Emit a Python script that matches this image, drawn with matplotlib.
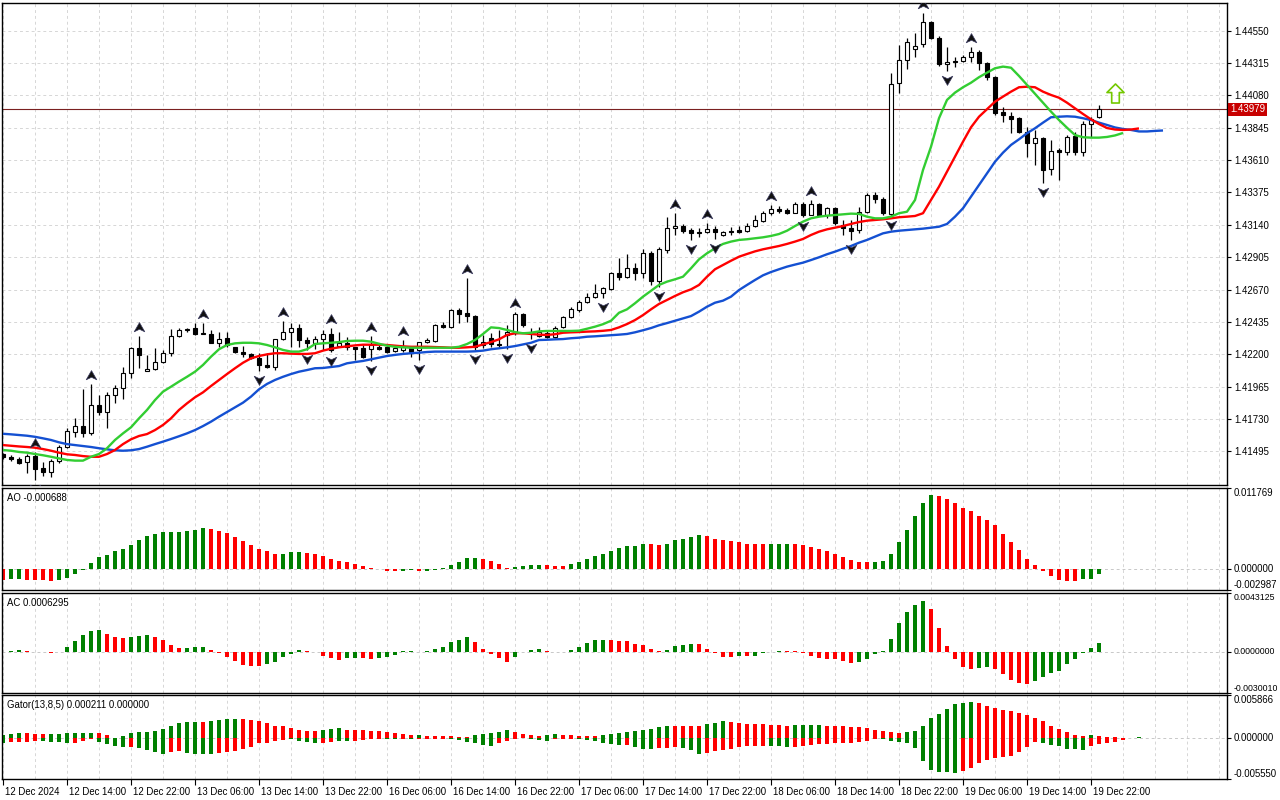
import matplotlib
matplotlib.use("Agg")
import matplotlib.pyplot as plt
import matplotlib.transforms as mtransforms
from matplotlib.path import Path
import numpy as np

plt.rcParams['font.family'] = ['Liberation Sans', 'DejaVu Sans']

# ---------------- data (H1 candles) ----------------
opens = [1.41473, 1.41455, 1.41439, 1.41415, 1.41463, 1.41372, 1.41347, 1.41423, 1.41524, 1.41637,
         1.41678, 1.41629, 1.41829, 1.41778, 1.41904, 1.41953, 1.42061, 1.42243, 1.42078, 1.42090,
         1.42141, 1.42211, 1.42332, 1.42376, 1.42388, 1.42352, 1.42347, 1.42283, 1.42316, 1.42250,
         1.42219, 1.42202, 1.42171, 1.42122, 1.42105, 1.42308, 1.42364, 1.42388, 1.42303, 1.42283,
         1.42308, 1.42347, 1.42262, 1.42279, 1.42254, 1.42243, 1.42238, 1.42254, 1.42250, 1.42224,
         1.42231, 1.42243, 1.42231, 1.42286, 1.42298, 1.42412, 1.42395, 1.42521, 1.42497, 1.42477,
         1.42267, 1.42316, 1.42274, 1.42340, 1.42352, 1.42492, 1.42364, 1.42332, 1.42356, 1.42323,
         1.42395, 1.42472, 1.42521, 1.42582, 1.42617, 1.42642, 1.42671, 1.42788, 1.42763, 1.42824,
         1.42788, 1.42937, 1.42734, 1.42957, 1.43114, 1.43131, 1.43102, 1.43090, 1.43085, 1.43112,
         1.43066, 1.43095, 1.43102, 1.43097, 1.43131, 1.43170, 1.43224, 1.43253, 1.43248, 1.43228,
         1.43291, 1.43211, 1.43291, 1.43211, 1.43260, 1.43139, 1.43114, 1.43102, 1.43235, 1.43357,
         1.43328, 1.43217, 1.44168, 1.44337, 1.44415, 1.44453, 1.44615, 1.44494, 1.44306, 1.44332,
         1.44330, 1.44357, 1.44393, 1.44318, 1.44216, 1.43957, 1.43930, 1.43914, 1.43817, 1.43736,
         1.43773, 1.43543, 1.43683, 1.43671, 1.43785, 1.43671, 1.43872, 1.43921]
highs = [1.41480, 1.41468, 1.41455, 1.41475, 1.41492, 1.41420, 1.41436, 1.41539, 1.41666, 1.41735,
         1.41945, 1.41984, 1.41904, 1.41925, 1.41977, 1.42109, 1.42254, 1.42332, 1.42195, 1.42243,
         1.42231, 1.42380, 1.42388, 1.42390, 1.42424, 1.42430, 1.42376, 1.42364, 1.42359, 1.42254,
         1.42259, 1.42207, 1.42207, 1.42207, 1.42308, 1.42443, 1.42424, 1.42419, 1.42327, 1.42332,
         1.42376, 1.42388, 1.42364, 1.42327, 1.42254, 1.42267, 1.42332, 1.42267, 1.42274, 1.42267,
         1.42303, 1.42254, 1.42291, 1.42316, 1.42419, 1.42436, 1.42526, 1.42534, 1.42752, 1.42484,
         1.42340, 1.42352, 1.42376, 1.42412, 1.42509, 1.42497, 1.42388, 1.42395, 1.42376, 1.42405,
         1.42477, 1.42541, 1.42594, 1.42646, 1.42710, 1.42690, 1.42800, 1.42896, 1.42928, 1.42860,
         1.42962, 1.42950, 1.42977, 1.43199, 1.43224, 1.43146, 1.43114, 1.43114, 1.43155, 1.43131,
         1.43097, 1.43122, 1.43131, 1.43151, 1.43211, 1.43243, 1.43284, 1.43277, 1.43260, 1.43308,
         1.43308, 1.43320, 1.43301, 1.43267, 1.43267, 1.43175, 1.43175, 1.43267, 1.43369, 1.43381,
         1.43344, 1.44241, 1.44446, 1.44494, 1.44531, 1.44676, 1.44623, 1.44512, 1.44429, 1.44361,
         1.44374, 1.44434, 1.44410, 1.44325, 1.44221, 1.43994, 1.43962, 1.43921, 1.43853, 1.43829,
         1.43780, 1.43756, 1.43695, 1.43793, 1.43812, 1.43896, 1.43925, 1.44010]
lows = [1.41441, 1.41427, 1.41403, 1.41335, 1.41286, 1.41315, 1.41310, 1.41408, 1.41517, 1.41600,
        1.41596, 1.41613, 1.41759, 1.41666, 1.41843, 1.41872, 1.42025, 1.42098, 1.42078, 1.42085,
        1.42134, 1.42187, 1.42327, 1.42364, 1.42340, 1.42345, 1.42279, 1.42254, 1.42254, 1.42207,
        1.42182, 1.42163, 1.42080, 1.42098, 1.42085, 1.42303, 1.42254, 1.42254, 1.42231, 1.42240,
        1.42231, 1.42213, 1.42254, 1.42231, 1.42158, 1.42171, 1.42151, 1.42231, 1.42207, 1.42216,
        1.42219, 1.42182, 1.42158, 1.42279, 1.42291, 1.42388, 1.42388, 1.42424, 1.42436, 1.42231,
        1.42243, 1.42254, 1.42245, 1.42238, 1.42340, 1.42400, 1.42310, 1.42323, 1.42321, 1.42316,
        1.42388, 1.42460, 1.42509, 1.42570, 1.42606, 1.42606, 1.42666, 1.42739, 1.42752, 1.42739,
        1.42752, 1.42703, 1.42688, 1.42933, 1.43066, 1.43078, 1.43030, 1.43054, 1.43078, 1.43035,
        1.43059, 1.43066, 1.43078, 1.43088, 1.43122, 1.43163, 1.43211, 1.43224, 1.43219, 1.43224,
        1.43199, 1.43208, 1.43208, 1.43187, 1.43139, 1.43066, 1.43030, 1.43078, 1.43224, 1.43296,
        1.43211, 1.43204, 1.44095, 1.44270, 1.44361, 1.44429, 1.44487, 1.44294, 1.44259, 1.44289,
        1.44325, 1.44325, 1.44265, 1.44192, 1.43938, 1.43889, 1.43809, 1.43809, 1.43631, 1.43575,
        1.43442, 1.43502, 1.43466, 1.43647, 1.43647, 1.43640, 1.43780, 1.43914]
closes = [1.41451, 1.41436, 1.41412, 1.41460, 1.41364, 1.41347, 1.41425, 1.41526, 1.41642, 1.41678,
          1.41629, 1.41829, 1.41778, 1.41902, 1.41953, 1.42061, 1.42243, 1.42195, 1.42093, 1.42141,
          1.42211, 1.42332, 1.42376, 1.42385, 1.42347, 1.42345, 1.42283, 1.42308, 1.42267, 1.42214,
          1.42202, 1.42171, 1.42122, 1.42105, 1.42308, 1.42364, 1.42388, 1.42303, 1.42279, 1.42308,
          1.42347, 1.42231, 1.42281, 1.42254, 1.42238, 1.42178, 1.42267, 1.42236, 1.42219, 1.42245,
          1.42254, 1.42219, 1.42286, 1.42303, 1.42412, 1.42395, 1.42521, 1.42492, 1.42480, 1.42254,
          1.42291, 1.42274, 1.42264, 1.42364, 1.42492, 1.42412, 1.42352, 1.42364, 1.42323, 1.42388,
          1.42472, 1.42526, 1.42582, 1.42617, 1.42642, 1.42679, 1.42788, 1.42763, 1.42824, 1.42792,
          1.42933, 1.42734, 1.42964, 1.43114, 1.43131, 1.43097, 1.43078, 1.43078, 1.43107, 1.43090,
          1.43090, 1.43085, 1.43090, 1.43131, 1.43175, 1.43228, 1.43255, 1.43243, 1.43228, 1.43291,
          1.43211, 1.43291, 1.43211, 1.43260, 1.43151, 1.43114, 1.43097, 1.43235, 1.43357, 1.43325,
          1.43224, 1.44161, 1.44337, 1.44465, 1.44441, 1.44615, 1.44494, 1.44306, 1.44325, 1.44325,
          1.44357, 1.44393, 1.44313, 1.44212, 1.43950, 1.43938, 1.43906, 1.43817, 1.43736, 1.43768,
          1.43538, 1.43678, 1.43671, 1.43780, 1.43671, 1.43872, 1.43906, 1.43979]

# Alligator lines as displayed (jaw shifted 8, teeth 5, lips 3 bars forward)
jaw = [1.41622, 1.41618, 1.41613, 1.41608, 1.41600, 1.41589, 1.41577, 1.41560, 1.41547, 1.41540,
       1.41533, 1.41526, 1.41517, 1.41509, 1.41502, 1.41499, 1.41502, 1.41511, 1.41528, 1.41547,
       1.41565, 1.41584, 1.41604, 1.41625, 1.41649, 1.41678, 1.41710, 1.41746, 1.41780, 1.41814,
       1.41848, 1.41892, 1.41945, 1.41984, 1.42013, 1.42036, 1.42056, 1.42073, 1.42085, 1.42098,
       1.42100, 1.42107, 1.42114, 1.42134, 1.42143, 1.42151, 1.42163, 1.42175, 1.42187, 1.42195,
       1.42202, 1.42207, 1.42211, 1.42216, 1.42219, 1.42219, 1.42219, 1.42219, 1.42219, 1.42221,
       1.42226, 1.42236, 1.42243, 1.42250, 1.42259, 1.42271, 1.42283, 1.42303, 1.42305, 1.42308,
       1.42310, 1.42316, 1.42320, 1.42327, 1.42330, 1.42334, 1.42338, 1.42342, 1.42347, 1.42359,
       1.42374, 1.42390, 1.42410, 1.42426, 1.42443, 1.42460, 1.42477, 1.42509, 1.42545, 1.42574,
       1.42589, 1.42618, 1.42666, 1.42703, 1.42739, 1.42773, 1.42797, 1.42817, 1.42836, 1.42851,
       1.42865, 1.42884, 1.42904, 1.42926, 1.42945, 1.42966, 1.42986, 1.43010, 1.43030, 1.43054,
       1.43078, 1.43090, 1.43097, 1.43102, 1.43107, 1.43112, 1.43119, 1.43126, 1.43146, 1.43199,
       1.43260, 1.43344, 1.43429, 1.43514, 1.43598, 1.43664, 1.43720, 1.43761, 1.43805, 1.43841,
       1.43882, 1.43921, 1.43925, 1.43928, 1.43925, 1.43914, 1.43901, 1.43882, 1.43865, 1.43847,
       1.43836, 1.43829, 1.43818, 1.43818, 1.43822, 1.43825]
teeth = [1.41540, 1.41535, 1.41530, 1.41526, 1.41521, 1.41511, 1.41499, 1.41485, 1.41473, 1.41468,
         1.41460, 1.41455, 1.41455, 1.41475, 1.41504, 1.41547, 1.41582, 1.41606, 1.41620, 1.41649,
         1.41686, 1.41734, 1.41795, 1.41843, 1.41887, 1.41923, 1.41969, 1.42013, 1.42056, 1.42098,
         1.42138, 1.42170, 1.42187, 1.42199, 1.42207, 1.42207, 1.42204, 1.42202, 1.42202, 1.42207,
         1.42226, 1.42240, 1.42250, 1.42257, 1.42264, 1.42269, 1.42269, 1.42269, 1.42267, 1.42262,
         1.42257, 1.42254, 1.42254, 1.42254, 1.42252, 1.42250, 1.42247, 1.42247, 1.42250, 1.42254,
         1.42271, 1.42288, 1.42308, 1.42340, 1.42352, 1.42352, 1.42347, 1.42342, 1.42340, 1.42345,
         1.42356, 1.42359, 1.42361, 1.42364, 1.42366, 1.42370, 1.42376, 1.42395, 1.42419, 1.42448,
         1.42484, 1.42526, 1.42565, 1.42594, 1.42623, 1.42650, 1.42671, 1.42703, 1.42763, 1.42817,
         1.42848, 1.42879, 1.42908, 1.42928, 1.42947, 1.42962, 1.42974, 1.42986, 1.43001, 1.43018,
         1.43037, 1.43066, 1.43090, 1.43107, 1.43119, 1.43131, 1.43146, 1.43160, 1.43170, 1.43175,
         1.43180, 1.43187, 1.43195, 1.43199, 1.43204, 1.43224, 1.43320, 1.43417, 1.43526, 1.43635,
         1.43744, 1.43848, 1.43925, 1.43979, 1.44034, 1.44071, 1.44107, 1.44139, 1.44143, 1.44139,
         1.44107, 1.44083, 1.44063, 1.44027, 1.43986, 1.43945, 1.43906, 1.43872, 1.43843, 1.43832,
         1.43829, 1.43832, 1.43840]
lips = [1.41504, 1.41499, 1.41490, 1.41485, 1.41475, 1.41466, 1.41455, 1.41443, 1.41432, 1.41427,
        1.41427, 1.41455, 1.41475, 1.41517, 1.41577, 1.41625, 1.41669, 1.41734, 1.41795, 1.41867,
        1.41928, 1.41964, 1.42001, 1.42036, 1.42073, 1.42122, 1.42182, 1.42236, 1.42267, 1.42279,
        1.42283, 1.42283, 1.42279, 1.42267, 1.42250, 1.42231, 1.42219, 1.42219, 1.42236, 1.42274,
        1.42279, 1.42283, 1.42288, 1.42296, 1.42298, 1.42298, 1.42291, 1.42276, 1.42262, 1.42254,
        1.42250, 1.42247, 1.42247, 1.42247, 1.42247, 1.42247, 1.42247, 1.42254, 1.42274, 1.42303,
        1.42347, 1.42395, 1.42390, 1.42376, 1.42361, 1.42352, 1.42356, 1.42366, 1.42369, 1.42369,
        1.42369, 1.42369, 1.42371, 1.42385, 1.42400, 1.42418, 1.42443, 1.42501, 1.42526, 1.42570,
        1.42618, 1.42661, 1.42703, 1.42727, 1.42744, 1.42763, 1.42824, 1.42889, 1.42933, 1.42969,
        1.43001, 1.43018, 1.43030, 1.43035, 1.43042, 1.43049, 1.43059, 1.43073, 1.43097, 1.43131,
        1.43163, 1.43187, 1.43199, 1.43206, 1.43211, 1.43216, 1.43221, 1.43219, 1.43199, 1.43187,
        1.43187, 1.43199, 1.43224, 1.43235, 1.43320, 1.43538, 1.43707, 1.43914, 1.44047, 1.44100,
        1.44139, 1.44172, 1.44212, 1.44245, 1.44277, 1.44289, 1.44281, 1.44221, 1.44156, 1.44090,
        1.44027, 1.43962, 1.43901, 1.43845, 1.43792, 1.43776, 1.43773, 1.43773, 1.43778, 1.43789,
        1.43807]

fractal_up_bars = [4, 11, 17, 25, 35, 41, 46, 50, 58, 64, 84, 88, 96, 101, 115, 121]
fractal_down_bars = [4, 32, 38, 41, 46, 52, 59, 63, 66, 75, 82, 86, 89, 100, 106, 111, 118, 130]

buy_signal_bar = [139]
buy_signal_price = [1.44094]

ao = [-0.00148, -0.00138, -0.00137, -0.00148, -0.00153, -0.00157, -0.00167, -0.00153, -0.00123, -0.00064,
      -0.00005, 0.00098, 0.00172, 0.00212, 0.00261, 0.00300, 0.00359, 0.00418, 0.00477, 0.00512,
      0.00541, 0.00543, 0.00545, 0.00556, 0.00571, 0.00595, 0.00580, 0.00551, 0.00521, 0.00468,
      0.00403, 0.00359, 0.00300, 0.00261, 0.00226, 0.00228, 0.00246, 0.00256, 0.00236, 0.00226,
      0.00197, 0.00152, 0.00128, 0.00108, 0.00074, 0.00049, 0.00020, 0.00010, -0.00025, -0.00030,
      -0.00022, -0.00015, -0.00030, -0.00020, -0.00005, 0.00015, 0.00064, 0.00103, 0.00162, 0.00164,
      0.00148, 0.00123, 0.00074, 0.00015, 0.00030, 0.00044, 0.00059, 0.00060, 0.00058, 0.00046,
      0.00044, 0.00074, 0.00103, 0.00148, 0.00192, 0.00221, 0.00266, 0.00310, 0.00339, 0.00340,
      0.00369, 0.00368, 0.00354, 0.00369, 0.00428, 0.00443, 0.00472, 0.00502, 0.00487, 0.00443,
      0.00428, 0.00413, 0.00399, 0.00369, 0.00368, 0.00367, 0.00368, 0.00369, 0.00370, 0.00369,
      0.00354, 0.00325, 0.00295, 0.00266, 0.00221, 0.00177, 0.00133, 0.00103, 0.00102, 0.00103,
      0.00118, 0.00221, 0.00399, 0.00576, 0.00768, 0.00959, 0.01077, 0.01063, 0.01014, 0.00959,
      0.00886, 0.00837, 0.00767, 0.00719, 0.00639, 0.00517, 0.00399, 0.00280, 0.00148, 0.00064,
      -0.00020, -0.00089, -0.00148, -0.00162, -0.00167, -0.00143, -0.00133, -0.000688]
ao_colors = ("rggrrrrggg" "gggggggggg" "ggggggrrrr" "rrrrrgggrr" "rrrrrrrrrr"
             "ggrggggggg" "rrrrggggrr" "rggggggggg" "grrgggggrr" "rrrrrrgggr"
             "rrrrrrrrrg" "gggggggrrr" "rrrrrrrrrr" "rrrrrggg")

ac = [0.00002, 0.00010, 0.00017, 0.00007, 0.00003, 0.00002, -0.00007, 0.00002, 0.00039, 0.00079,
      0.00121, 0.00150, 0.00160, 0.00130, 0.00113, 0.00101, 0.00108, 0.00116, 0.00123, 0.00108,
      0.00086, 0.00049, 0.00027, 0.00032, 0.00033, 0.00039, 0.00017, -0.00007, -0.00039, -0.00069,
      -0.00093, -0.00101, -0.00102, -0.00091, -0.00076, -0.00039, -0.00012, 0.00017, 0.00007, -0.00002,
      -0.00032, -0.00047, -0.00057, -0.00047, -0.00046, -0.00047, -0.00048, -0.00047, -0.00039, -0.00025,
      0.00005, 0.00006, 0.00001, 0.00007, 0.00025, 0.00039, 0.00071, 0.00084, 0.00106, 0.00071,
      0.00025, -0.00015, -0.00047, -0.00076, -0.00039, 0.00002, 0.00017, 0.00025, 0.00010, 0.00002,
      0.00001, 0.00017, 0.00039, 0.00069, 0.00089, 0.00091, 0.00084, 0.00079, 0.00077, 0.00057,
      0.00052, 0.00020, 0.00005, 0.00015, 0.00044, 0.00052, 0.00059, 0.00058, 0.00022, -0.00010,
      -0.00034, -0.00035, -0.00027, -0.00028, -0.00027, -0.00005, 0.00002, 0.00007, 0.00005, 0.00004,
      -0.00010, -0.00027, -0.00042, -0.00049, -0.00052, -0.00064, -0.00079, -0.00071, -0.00049, -0.00017,
      0.00007, 0.00096, 0.00212, 0.00295, 0.00347, 0.00376, 0.00317, 0.00175, 0.00044, -0.00049,
      -0.00108, -0.00123, -0.00116, -0.00108, -0.00123, -0.00160, -0.00204, -0.00226, -0.00234, -0.00212,
      -0.00182, -0.00153, -0.00138, -0.00086, -0.00049, -0.00005, 0.00027, 0.0006295]
ac_colors = ("gggrrrrggg" "gggrrrgggr" "rrrgggrrrr" "rrrgggggrr" "rrrggrrggg"
             "ggrggggggr" "rrrrggggrr" "rgggggrrrr" "rrrggggrrr" "rrgrggggrr"
             "rrrrrrrggg" "ggggggrrrr" "rrggrrrrrg" "gggggggg")

gator_up = [0.00046, 0.00060, 0.00074, 0.00074, 0.00060, 0.00060, 0.00060, 0.00060, 0.00074, 0.00074,
            0.00074, 0.00074, 0.00074, 0.00042, 0.00005, 0.00032, 0.00070, 0.00088, 0.00088, 0.00102,
            0.00130, 0.00172, 0.00200, 0.00213, 0.00213, 0.00213, 0.00227, 0.00241, 0.00255, 0.00255,
            0.00255, 0.00241, 0.00227, 0.00200, 0.00172, 0.00172, 0.00144, 0.00116, 0.00102, 0.00102,
            0.00116, 0.00130, 0.00144, 0.00116, 0.00116, 0.00116, 0.00102, 0.00102, 0.00085, 0.00070,
            0.00055, 0.00042, 0.00043, 0.00028, 0.00027, 0.00026, 0.00023, 0.00019, 0.00014, 0.00042,
            0.00056, 0.00070, 0.00088, 0.00107, 0.00079, 0.00056, 0.00042, 0.00028, 0.00042, 0.00056,
            0.00042, 0.00041, 0.00028, 0.00027, 0.00023, 0.00042, 0.00056, 0.00070, 0.00084, 0.00097,
            0.00111, 0.00125, 0.00153, 0.00172, 0.00171, 0.00165, 0.00162, 0.00160, 0.00190, 0.00208,
            0.00227, 0.00218, 0.00208, 0.00199, 0.00190, 0.00186, 0.00181, 0.00176, 0.00172, 0.00176,
            0.00177, 0.00178, 0.00179, 0.00171, 0.00170, 0.00162, 0.00153, 0.00152, 0.00135, 0.00116,
            0.00093, 0.00079, 0.00070, 0.00088, 0.00102, 0.00172, 0.00274, 0.00330, 0.00394, 0.00459,
            0.00483, 0.00496, 0.00473, 0.00432, 0.00404, 0.00380, 0.00367, 0.00348, 0.00320, 0.00274,
            0.00227, 0.00172, 0.00125, 0.00088, 0.00042, 0.00023, 0.00042, 0.00032, 0.00019, 0.00012,
            0.00008, 0.00005, 0.000211]
gator_up_colors = ("gggrrrgggg" "ggrrrggggg" "gggggrgggg" "rrrrrrrrrr" "gggrrrrrrr"
                   "rrgrrrrrrg" "ggggrrrrgg" "rrrrrggggg" "ggggrrrrgg" "grrrrrrrrg"
                   "gggrrrrrrr" "rrrggggggg" "ggrrrrrrrr" "rrrrrrgrrr" "rrg")
gator_down = [-0.00060, -0.00051, -0.00051, -0.00051, -0.00037, -0.00037, -0.00051, -0.00051, -0.00065, -0.00065,
              -0.00037, -0.00009, -0.00051, -0.00079, -0.00107, -0.00116, -0.00121, -0.00135, -0.00162, -0.00190,
              -0.00218, -0.00190, -0.00181, -0.00204, -0.00218, -0.00218, -0.00218, -0.00204, -0.00190, -0.00176,
              -0.00148, -0.00121, -0.00065, -0.00065, -0.00037, -0.00023, -0.00009, -0.00037, -0.00051, -0.00065,
              -0.00065, -0.00051, -0.00037, -0.00037, -0.00037, -0.00028, -0.00014, -0.00009, -0.00010, -0.00014,
              -0.00012, -0.00014, -0.00010, -0.00009, -0.00008, -0.00005, -0.00018, -0.00028, -0.00051, -0.00070,
              -0.00093, -0.00107, -0.00070, -0.00036, -0.00009, -0.00003, -0.00009, -0.00028, -0.00042, -0.00014,
              -0.00009, -0.00005, -0.00014, -0.00028, -0.00042, -0.00060, -0.00084, -0.00097, -0.00096, -0.00121,
              -0.00144, -0.00153, -0.00139, -0.00130, -0.00116, -0.00130, -0.00162, -0.00209, -0.00200, -0.00176,
              -0.00162, -0.00144, -0.00116, -0.00107, -0.00107, -0.00106, -0.00107, -0.00108, -0.00116, -0.00115,
              -0.00107, -0.00097, -0.00084, -0.00083, -0.00070, -0.00069, -0.00060, -0.00046, -0.00037, -0.00010,
              -0.00014, -0.00037, -0.00046, -0.00070, -0.00139, -0.00316, -0.00432, -0.00455, -0.00464, -0.00469,
              -0.00441, -0.00408, -0.00339, -0.00292, -0.00269, -0.00255, -0.00246, -0.00190, -0.00121, -0.00051,
              -0.00065, -0.00093, -0.00107, -0.00144, -0.00153, -0.00160, -0.00107, -0.00084, -0.00065, -0.00046,
              -0.00022]
gator_down_colors = ("grrrrggggr" "rrggggrggg" "grrggggrrr" "rrrrrrgggg" "rrggrrrrgg"
                     "rgrrrrgggg" "ggrrrrgggr" "rrggggggrg" "ggrrrgggrr" "rrrrrrgggr"
                     "rrrrrrrrrr" "gggggggggg" "rrrrrrrrrr" "ggggggrrrr" "r")
gator_down_last = 0.0

price_ticks = [1.41495, 1.41730, 1.41965, 1.42200, 1.42435, 1.42670, 1.42905,
               1.43140, 1.43375, 1.43610, 1.43845, 1.44080, 1.44315, 1.44550]
price_range = [1.41250, 1.44751]
ao_range = [-0.002987, 0.011769]
ac_range = [-0.0030010, 0.0043125]
gator_range = [-0.005550, 0.005866]
ao_tick_labels = ["-0.002987", "0.000000", "0.011769"]
ac_tick_labels = ["-0.0030010", "0.0000000", "0.0043125"]
gator_tick_labels = ["-0.005550", "0.000000", "0.005866"]

time_label_bars = [0, 8, 16, 24, 32, 40, 48, 56, 64, 72, 80, 88, 96, 104, 112, 120, 128, 136]
time_labels = ["12 Dec 2024", "12 Dec 14:00", "12 Dec 22:00", "13 Dec 06:00", "13 Dec 14:00",
               "13 Dec 22:00", "16 Dec 06:00", "16 Dec 14:00", "16 Dec 22:00", "17 Dec 06:00",
               "17 Dec 14:00", "17 Dec 22:00", "18 Dec 06:00", "18 Dec 14:00", "18 Dec 22:00",
               "19 Dec 06:00", "19 Dec 14:00", "19 Dec 22:00"]

# ---------------- figure layout ----------------
W, H = 1280, 800
fig = plt.figure(figsize=(W / 100, H / 100), dpi=100)
fig.patch.set_facecolor('white')


def rect(top, bottom, left=2, right=1227):
    return [left / W, 1 - bottom / H, (right - left) / W, (bottom - top) / H]


ax = fig.add_axes(rect(3, 485))
ax_ao = fig.add_axes(rect(488, 590))
ax_ac = fig.add_axes(rect(593, 693))
ax_g = fig.add_axes(rect(695, 779))
all_axes = [ax, ax_ao, ax_ac, ax_g]

FS = 6.9
GRID = dict(color='#d6d6d6', lw=0.7, ls=(0, (3, 3)), zorder=0)
GREEN, RED = '#008000', '#ff0000'
cmap = {'g': GREEN, 'r': RED}

for a in all_axes:
    a.set_xlim(-0.125, 153.0)
    a.set_facecolor('white')
    for s in a.spines.values():
        s.set_color('black')
        s.set_linewidth(1.0)
    a.yaxis.tick_right()
    a.tick_params(axis='y', direction='out', length=3, width=0.8,
                  labelsize=FS, pad=2, colors='black')
    a.tick_params(axis='x', bottom=False, labelbottom=False)
    for gx in range(0, 154, 4):
        a.axvline(gx, **GRID)

# ---------------- main price panel ----------------
ax.set_ylim(*price_range)
ax.set_yticks(price_ticks)
ax.set_yticklabels([f"{p:.5f}" for p in price_ticks])
for p in price_ticks:
    ax.axhline(p, **GRID)

x = np.arange(len(opens))
o = np.array(opens); c = np.array(closes)
h = np.array(highs); l = np.array(lows)
ax.vlines(x, l, h, color='black', lw=0.9, zorder=2)
bottoms = np.minimum(o, c)
heights = np.maximum(np.abs(c - o), 1e-6)
faces = ['white' if cc >= oo else 'black' for oo, cc in zip(opens, closes)]
ax.bar(x, heights, bottom=bottoms, width=0.62, color=faces, edgecolor='black',
       linewidth=0.8, zorder=3)

# current price line
ax.axhline(closes[-1], color='#7a2020', lw=0.8, zorder=1.5)

# Alligator
ax.plot(np.arange(len(jaw)), jaw, color='#1450d2', lw=1.7, zorder=4, solid_capstyle='butt')
ax.plot(np.arange(len(teeth)), teeth, color='#ff0000', lw=1.7, zorder=4, solid_capstyle='butt')
ax.plot(np.arange(len(lips)), lips, color='#32cd32', lw=1.7, zorder=4, solid_capstyle='butt')

# fractals
codes = [Path.MOVETO, Path.LINETO, Path.LINETO, Path.LINETO, Path.CLOSEPOLY]
up_v = [(0, 1.0), (0.38, 0.34), (0, 0.52), (-0.38, 0.34), (0, 1.0)]
up_marker = Path(up_v, codes)
down_marker = Path([(vx, -vy) for vx, vy in up_v], codes)
ax.plot(fractal_up_bars, [highs[i] for i in fractal_up_bars], ls='none',
        marker=up_marker, ms=20, mfc='#111111', mec='#3a3a60', mew=0.5, zorder=6)
ax.plot(fractal_down_bars, [lows[i] for i in fractal_down_bars], ls='none',
        marker=down_marker, ms=20, mfc='#111111', mec='#3a3a60', mew=0.5, zorder=6)

# buy signal arrow (hollow)
arrow_codes = [Path.MOVETO] + [Path.LINETO] * 6 + [Path.CLOSEPOLY]
arrow_v = [(0, 1), (0.9, 0.1), (0.4, 0.1), (0.4, -1), (-0.4, -1), (-0.4, 0.1), (-0.9, 0.1), (0, 1)]
ax.plot(buy_signal_bar, buy_signal_price, ls='none', marker=Path(arrow_v, arrow_codes),
        ms=13.7, mfc='none', mec='#74c800', mew=1.2, zorder=6)

# price label box
trans = mtransforms.blended_transform_factory(ax.transAxes, ax.transData)
ax.text(1.0 + 3 / 1225, closes[-1], f"{closes[-1]:.5f}", transform=trans,
        ha='left', va='center', fontsize=FS, color='white', zorder=10, clip_on=False,
        bbox=dict(boxstyle='square,pad=0.18', fc='#c80000', ec='none'))

# ---------------- AO ----------------
ax_ao.set_ylim(*ao_range)
ax_ao.axhline(0, color='#c8c8c8', lw=0.7, ls=(0, (3, 3)), zorder=1)
ax_ao.bar(np.arange(len(ao)), ao, width=0.5, color=[cmap[k] for k in ao_colors], zorder=2)
ax_ao.text(0.004, 0.955, f"AO {ao[-1]:.6f}", transform=ax_ao.transAxes,
           ha='left', va='top', fontsize=FS)

# ---------------- AC ----------------
ax_ac.set_ylim(*ac_range)
ax_ac.axhline(0, color='#c8c8c8', lw=0.7, ls=(0, (3, 3)), zorder=1)
ax_ac.bar(np.arange(len(ac)), ac, width=0.5, color=[cmap[k] for k in ac_colors], zorder=2)
ax_ac.text(0.004, 0.955, f"AC {ac[-1]:.7f}", transform=ax_ac.transAxes,
           ha='left', va='top', fontsize=FS)

# ---------------- Gator ----------------
ax_g.set_ylim(*gator_range)
ax_g.axhline(0, color='#c8c8c8', lw=0.7, ls=(0, (3, 3)), zorder=1)
ax_g.bar(np.arange(len(gator_up)), gator_up, width=0.5,
         color=[cmap[k] for k in gator_up_colors], zorder=2)
ax_g.bar(np.arange(len(gator_down)), gator_down, width=0.5,
         color=[cmap[k] for k in gator_down_colors], zorder=2)
ax_g.text(0.004, 0.94, f"Gator(13,8,5) {gator_up[-1]:.6f} {gator_down_last:.6f}",
          transform=ax_g.transAxes, ha='left', va='top', fontsize=FS)

# indicator scales
for a, rng, labs in [(ax_ao, ao_range, ao_tick_labels),
                     (ax_ac, ac_range, ac_tick_labels),
                     (ax_g, gator_range, gator_tick_labels)]:
    a.set_yticks([rng[0], 0.0, rng[1]])
    a.set_yticklabels(labs)
    for t, va in zip(a.get_yticklabels(), ['bottom', 'center', 'top']):
        t.set_verticalalignment(va)
# the AC scale uses longer numbers: keep them inside the picture
ax_ac.tick_params(axis='y', labelsize=6.3, pad=1.5)

# time axis
ax_g.set_xticks(time_label_bars)
ax_g.set_xticklabels(time_labels, ha='left')
ax_g.tick_params(axis='x', bottom=True, labelbottom=True, direction='out', length=4,
                 width=0.8, labelsize=FS, pad=1.5)
offset = mtransforms.ScaledTranslation(2 / 100, 0, fig.dpi_scale_trans)
for lab in ax_g.get_xticklabels():
    lab.set_transform(lab.get_transform() + offset)

fig.savefig("out.png", dpi=100, facecolor='white')
